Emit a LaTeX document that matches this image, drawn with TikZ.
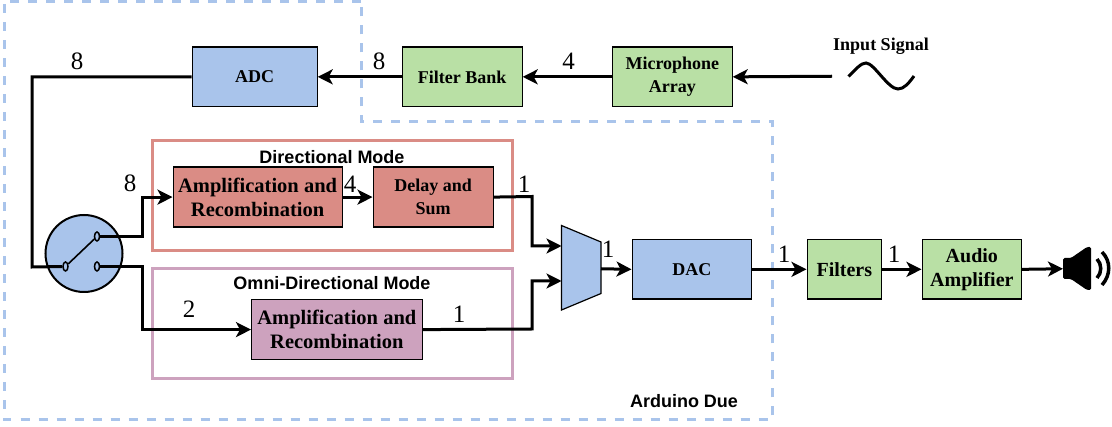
\documentclass[tikz,border=0pt]{standalone}
\usepackage{fontspec}
\setmainfont{Liberation Serif}
\setsansfont{Liberation Sans}
\usetikzlibrary{arrows.meta,positioning,calc,shapes.geometric}
\definecolor{cblue}{HTML}{A9C4EB}
\definecolor{cgreen}{HTML}{B9E0A5}
\definecolor{cred}{HTML}{DA8C85}
\definecolor{cpurple}{HTML}{CDA2BE}
\definecolor{dashblue}{HTML}{A9C4EB}
\tikzset{
  box/.style={draw=black,line width=1.2pt,inner sep=0pt,align=center,anchor=north west,font=\bfseries\fontsize{18}{23.5}\selectfont},
  bigbox/.style={box,font=\bfseries\fontsize{20.5}{24}\selectfont},
  midbox/.style={box,font=\bfseries\fontsize{20}{24}\selectfont},
  wire/.style={draw=black,line width=3pt,-{Stealth[length=15pt,width=15pt,inset=4pt]}},
  plainwire/.style={draw=black,line width=3pt},
  thinwire/.style={draw=black,line width=1.6pt},
  qty/.style={font=\fontsize{25}{27}\selectfont,inner sep=0pt},
  modetitle/.style={font=\sffamily\bfseries\fontsize{18}{20}\selectfont,inner sep=0pt},
  frame/.style={line width=3pt,fill=none},
  contact/.style={draw=black,line width=1.5pt,ellipse,fill=cblue,minimum width=5pt,minimum height=9pt,inner sep=0pt},
}
\begin{document}
\begin{tikzpicture}[x=1pt,y=-1pt]
\useasboundingbox (0,0) rectangle (1112,427);
% Arduino Due boundary
\draw[dashblue,line width=3pt,dash pattern=on 9pt off 9pt] (361,1.5) -- (4,1.5) -- (4,420) -- (772,420) -- (772,122) -- (361,122) -- cycle;
\node[modetitle] (due) at (684,401) {Arduino Due};
% mode frames
\draw[frame,draw=cred] (152,141) rectangle (512,251);
\draw[frame,draw=cpurple] (152,268.5) rectangle (512,378.5);
\node[modetitle] (dirt) at (332,157) {Directional Mode};
\node[modetitle] (omnit) at (332,283) {Omni-Directional Mode};
% boxes
\node[box,fill=cblue,minimum width=125pt,minimum height=59.5pt] (adc) at (191.5,46.5) {ADC};
\node[box,fill=cgreen,minimum width=120pt,minimum height=59.5pt] (fb) at (401.5,46.5) {Filter Bank};
\node[box,fill=cgreen,minimum width=119.5pt,minimum height=59.5pt] (mic) at (612,46.5) {Microphone\\Array};
\node[bigbox,fill=cred,minimum width=169pt,minimum height=60pt] (amp1) at (172.5,166.5) {Amplification and\\Recombination};
\node[box,fill=cred,minimum width=120pt,minimum height=60pt] (das) at (372.5,166.5) {Delay and\\Sum};
\node[bigbox,fill=cpurple,minimum width=170.5pt,minimum height=60pt] (amp2) at (251,299) {Amplification and\\Recombination};
\node[box,fill=cblue,minimum width=119.5pt,minimum height=59.5pt] (dac) at (631.5,239) {DAC};
\node[midbox,fill=cgreen,minimum width=74.5pt,minimum height=59.5pt] (filt) at (806.5,239) {Filters};
\node[midbox,fill=cgreen,minimum width=99.5pt,minimum height=59.5pt] (aamp) at (921.5,239) {Audio\\Amplifier};
% switch
\node[circle,draw=black,line width=2pt,fill=cblue,minimum size=77pt,inner sep=0pt] (sw) at (84,253.5) {};
\node[contact] (c1) at (65.5,266.5) {};
\node[contact] (c2) at (97,236.5) {};
\node[contact] (c3) at (97,266.5) {};
\draw[thinwire] (c1) -- (c2);
% mux
\draw[draw=black,line width=1.2pt,fill=cblue] (561.5,225.5) -- (601,242) -- (601,293.5) -- (561.5,310) -- cycle;
\coordinate (muxa) at (561.5,246);
\coordinate (muxb) at (561.5,281);
\coordinate (muxo) at (601,268.75);
% input
\node[font=\bfseries\fontsize{18}{20}\selectfont,inner sep=0pt] (inp) at (881,46.5) {Input Signal};
\coordinate (inl) at (832,76.25);
\draw[line width=3pt] (848.5,76.5) .. controls (856,69) and (861,63) .. (866,63) .. controls (874,63) and (888,89) .. (898,89) .. controls (904,89) and (909,83) .. (914,76);
% speaker
\coordinate (spk) at (1063,268.75);
\fill[black,rounded corners=1.5pt] (1063,258) -- (1071,258) -- (1087,247) -- (1091,247) -- (1091,290) -- (1087,290) -- (1071,279) -- (1063,279) -- cycle;
\draw[line width=3.5pt] (1097,259) .. controls (1102,264) and (1102,273) .. (1097,278);
\draw[line width=3.5pt] (1102,252) .. controls (1111,261) and (1111,275) .. (1102,285);
% connectors
\draw[wire] (inl) -- (mic.east);
\draw[wire] (mic.west) -- (fb.east);
\draw[wire] (fb.west) -- (adc.east);
\draw[plainwire] (adc.west) -| (32,267) -- (c1.west);
\draw[wire] (c2.east) -- (142,236.5) |- (amp1.west);
\draw[wire] (c3.east) -- (142,266.5) |- (amp2.west);
\draw[wire] (amp1.east) -- (das.west);
\draw[wire] (das.east) -- (532,196.5) |- (muxa);
\draw[wire] (amp2.east) -- (532,329) |- (muxb);
\draw[wire] (muxo) -- (dac.west);
\draw[wire] (dac.east) -- (filt.west);
\draw[wire] (filt.east) -- (aamp.west);
\draw[wire] (aamp.east) -- (spk);
% quantities
\node[qty] (q1) at (77,61) {8};
\node[qty] (q2) at (379,61) {8};
\node[qty] (q3) at (568.5,61) {4};
\node[qty] (q4) at (130,183.5) {8};
\node[qty] (q5) at (350,184) {4};
\node[qty] (q6) at (524,184) {1};
\node[qty] (q7) at (189,309.5) {2};
\node[qty] (q8) at (459,314) {1};
\node[qty] (q9) at (608,249) {1};
\node[qty] (q10) at (784,254) {1};
\node[qty] (q11) at (894,254) {1};
\end{tikzpicture}
\end{document}
